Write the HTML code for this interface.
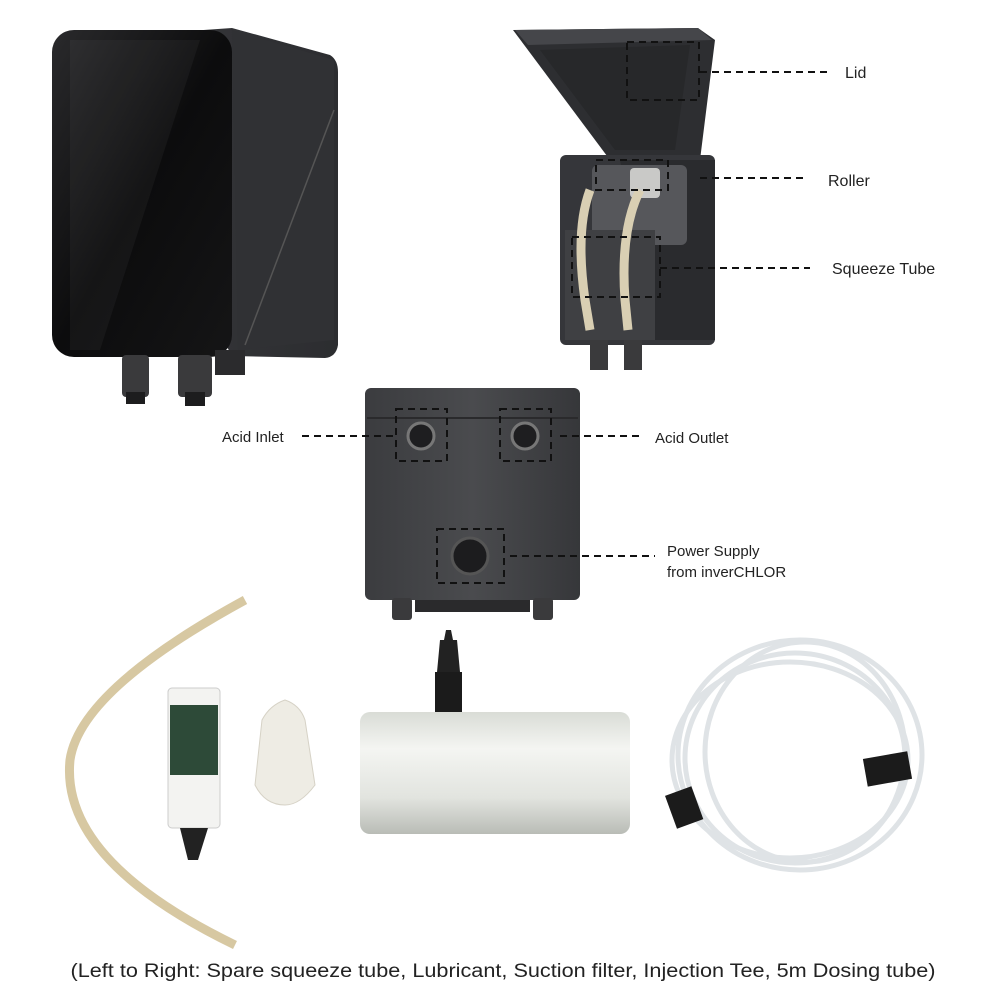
<!DOCTYPE html>
<html><head><meta charset="utf-8"><style>
html,body{margin:0;padding:0;background:#fff;width:1000px;height:1000px;overflow:hidden}
svg{display:block}
text{font-family:"Liberation Sans",sans-serif;fill:#222}
</style></head><body>
<svg width="1000" height="1000" viewBox="0 0 1000 1000">
<defs>
<linearGradient id="gl" x1="0" y1="0" x2="1" y2="1"><stop offset="0" stop-color="#2a2a2c"/><stop offset="0.5" stop-color="#0c0c0d"/><stop offset="1" stop-color="#151516"/></linearGradient>
<linearGradient id="side" x1="0" y1="0" x2="1" y2="0"><stop offset="0" stop-color="#3a3b3e"/><stop offset="1" stop-color="#2c2d30"/></linearGradient>
<linearGradient id="pipe" x1="0" y1="0" x2="0" y2="1"><stop offset="0" stop-color="#d9dcd6"/><stop offset="0.3" stop-color="#f4f5f2"/><stop offset="0.7" stop-color="#e2e4df"/><stop offset="1" stop-color="#b9bcb6"/></linearGradient>
<linearGradient id="mb" x1="0" y1="0" x2="1" y2="0"><stop offset="0" stop-color="#3b3c3f"/><stop offset="0.5" stop-color="#4a4b4e"/><stop offset="1" stop-color="#36373a"/></linearGradient>
</defs>

<!-- left pump -->
<path d="M60 40 L232 28 L330 55 Q338 60 338 72 L338 345 Q336 357 325 358 L232 356 Z" fill="url(#side)"/>
<path d="M232 30 L334 60 L334 340 L238 350 Z" fill="#303134"/>
<line x1="245" y1="345" x2="334" y2="110" stroke="#555" stroke-width="1.5"/>
<rect x="52" y="30" width="180" height="327" rx="22" fill="url(#gl)"/>
<path d="M70 40 L200 40 L100 350 L70 350 Z" fill="#fff" opacity="0.04"/>
<rect x="215" y="350" width="30" height="25" fill="#2b2b2d"/>
<rect x="122" y="355" width="27" height="42" rx="4" fill="#3a3a3c"/>
<rect x="126" y="392" width="19" height="12" fill="#1d1d1e"/>
<rect x="178" y="355" width="34" height="42" rx="4" fill="#3a3a3c"/>
<rect x="185" y="392" width="20" height="14" fill="#1d1d1e"/>

<!-- top right open pump -->
<path d="M513 30 L698 28 L715 40 L700 160 L610 160 Z" fill="#2d2e31"/>
<path d="M515 30 L698 28 L712 40 L528 45 Z" fill="#45464a"/>
<path d="M540 50 L690 45 L675 150 L615 150 Z" fill="#27282a"/>
<rect x="560" y="155" width="155" height="190" rx="6" fill="#35363a"/>
<path d="M620 160 L715 160 L715 340 L650 340 Z" fill="#2a2b2e"/>
<rect x="592" y="165" width="95" height="80" rx="6" fill="#56575b"/>
<rect x="630" y="168" width="30" height="30" rx="4" fill="#c9c9c7"/>
<rect x="565" y="230" width="90" height="110" fill="#3f4043"/>
<path d="M590 190 Q575 230 585 300 L590 330" stroke="#d9cfb3" stroke-width="9" fill="none"/>
<path d="M640 190 Q620 230 625 300 L628 330" stroke="#d9cfb3" stroke-width="9" fill="none"/>
<rect x="590" y="340" width="18" height="30" fill="#3a3a3c"/>
<rect x="624" y="340" width="18" height="30" fill="#3a3a3c"/>

<!-- middle box -->
<rect x="365" y="388" width="215" height="212" rx="6" fill="url(#mb)"/>
<line x1="367" y1="418" x2="578" y2="418" stroke="#2a2a2c" stroke-width="2"/>
<rect x="392" y="598" width="20" height="22" rx="3" fill="#3a3a3c"/>
<rect x="533" y="598" width="20" height="22" rx="3" fill="#3a3a3c"/>
<rect x="415" y="600" width="115" height="12" fill="#2a2a2c"/>
<circle cx="421" cy="436" r="13" fill="#1e1e20" stroke="#777" stroke-width="3"/>
<circle cx="525" cy="436" r="13" fill="#1e1e20" stroke="#777" stroke-width="3"/>
<circle cx="470" cy="556" r="18" fill="#1c1c1e" stroke="#555" stroke-width="3"/>

<g stroke="#111" stroke-width="2" stroke-dasharray="7,5" fill="none">
<rect x="627" y="42" width="72" height="58"/>
<rect x="596" y="160" width="72" height="30"/>
<rect x="572" y="237" width="88" height="60"/>
<line x1="700" y1="72" x2="828" y2="72"/>
<line x1="700" y1="178" x2="805" y2="178"/>
<line x1="660" y1="268" x2="810" y2="268"/>
<rect x="396" y="409" width="51" height="52"/>
<rect x="500" y="409" width="51" height="52"/>
<rect x="437" y="529" width="67" height="54"/>
<line x1="302" y1="436" x2="395" y2="436"/>
<line x1="560" y1="436" x2="640" y2="436"/>
<line x1="510" y1="556" x2="655" y2="556"/>
</g>
<text x="845" y="78" font-size="16">Lid</text>
<text x="828" y="186" font-size="16">Roller</text>
<text x="832" y="274" font-size="16">Squeeze Tube</text>
<text x="222" y="442" font-size="15">Acid Inlet</text>
<text x="655" y="443" font-size="15">Acid Outlet</text>
<text x="667" y="556" font-size="15">Power Supply</text>
<text x="667" y="577" font-size="15">from inverCHLOR</text>

<!-- bottom items -->
<path d="M245 600 Q80 690 70 760 Q60 860 235 945" stroke="#d7c8a2" stroke-width="9" fill="none"/>
<rect x="168" y="688" width="52" height="140" rx="4" fill="#f3f3f1" stroke="#ccc"/>
<rect x="170" y="705" width="48" height="70" fill="#2d4a38"/>
<path d="M180 828 L208 828 L198 860 L188 860 Z" fill="#222"/>
<path d="M262 720 Q270 705 285 700 Q300 705 305 720 L315 785 Q300 805 285 805 Q265 805 255 785 Z" fill="#eeece4" stroke="#d6d2c6"/>
<rect x="360" y="712" width="270" height="122" rx="10" fill="url(#pipe)"/>
<path d="M435 672 L462 672 L462 712 L435 712 Z" fill="#1b1b1b"/>
<path d="M440 640 L457 640 L460 672 L437 672 Z" fill="#222"/>
<path d="M446 630 L451 630 L453 640 L444 640 Z" fill="#222"/>
<g fill="none" stroke="#dfe3e6" stroke-width="5">
<ellipse cx="800" cy="755" rx="122" ry="115"/>
<ellipse cx="795" cy="758" rx="110" ry="105"/>
<ellipse cx="805" cy="752" rx="100" ry="110"/>
<ellipse cx="790" cy="760" rx="118" ry="98"/>
</g>
<rect x="865" y="755" width="45" height="28" fill="#1b1b1b" transform="rotate(-10 887 769)"/>
<rect x="670" y="790" width="28" height="35" fill="#1b1b1b" transform="rotate(-20 684 807)"/>

<text x="503" y="977" font-size="19" text-anchor="middle" textLength="865" lengthAdjust="spacingAndGlyphs">(Left to Right: Spare squeeze tube, Lubricant, Suction filter, Injection Tee, 5m Dosing tube)</text>
</svg>
</body></html>
